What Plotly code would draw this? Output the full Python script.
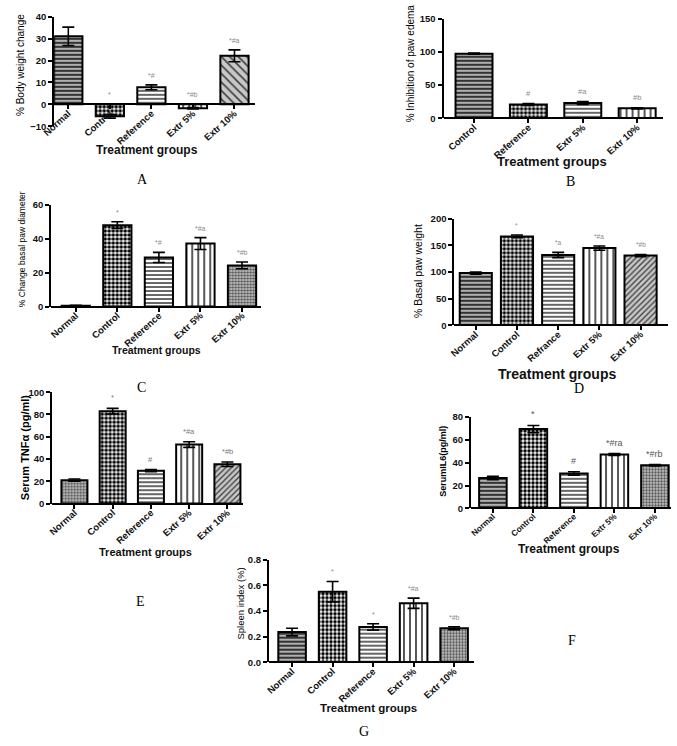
import plotly.graph_objects as go

W, H = 677, 746

# ---------------- data ----------------
A_cats = ["Normal", "Control", "Reference", "Extr 5%", "Extr 10%"]
A_vals = [31.1, -5.5, 7.8, -1.8, 22.2]
A_err = [4.2, 0.8, 1.1, 0.3, 2.7]
A_sig = ["", "*", "*#", "*#b", "*#a"]

B_cats = ["Control", "Reference", "Extr 5%", "Extr 10%"]
B_vals = [97.5, 20.8, 23.0, 15.0]
B_err = [1.0, 1.5, 2.2, 0.8]
B_sig = ["", "#", "#a", "#b"]

C_cats = ["Normal", "Control", "Reference", "Extr 5%", "Extr 10%"]
C_vals = [0.5, 48.1, 29.0, 37.2, 24.3]
C_err = [0.2, 2.0, 3.0, 3.5, 2.0]
C_sig = ["", "*", "*#", "*#a", "*#b"]

D_cats = ["Normal", "Control", "Refrance", "Extr 5%", "Extr 10%"]
D_vals = [98, 167, 132, 145, 131]
D_err = [2, 2.5, 5, 4, 2]
D_sig = ["", "*", "*a", "*#a", "*#b"]

E_cats = ["Normal", "Control", "Reference", "Extr 5%", "Extr 10%"]
E_vals = [21.0, 83.0, 29.5, 53.0, 35.3]
E_err = [1.0, 2.5, 1.0, 2.5, 2.0]
E_sig = ["", "*", "#", "*#a", "*#b"]

F_cats = ["Normal", "Control", "Reference", "Extr 5%", "Extr 10%"]
F_vals = [26.6, 69.3, 30.6, 47.2, 37.7]
F_err = [1.5, 3.2, 1.5, 0.8, 0.6]
F_sig = ["", "*", "#", "*#ra", "*#rb"]

G_cats = ["Normal", "Control", "Reference", "Extr 5%", "Extr 10%"]
G_vals = [0.235, 0.55, 0.275, 0.46, 0.265]
G_err = [0.03, 0.08, 0.025, 0.04, 0.012]
G_sig = ["", "*", "*", "*#a", "*#b"]

# ---------------- styles ----------------
P_DENSE = dict(shape="-", fg="#333333", bg="#b0b0b0", size=4, sol=0.5)
P_CHECK = dict(shape=".", fg="#000000", bg="#ffffff", size=4, sol=0.6)
P_HLINE = dict(shape="-", fg="#000000", bg="#ffffff", size=4, sol=0.3)
P_VLINE = dict(shape="|", fg="#000000", bg="#ffffff", size=6, sol=0.22)
P_DIAG = dict(shape="\\", fg="#444444", bg="#c8c8c8", size=6, sol=0.3)
P_DIAG2 = dict(shape="/", fg="#444444", bg="#c8c8c8", size=4, sol=0.35)
P_DOT = dict(shape=".", fg="#555555", bg="#d0d0d0", size=3, sol=0.5)
P_NONE = dict(shape="", fg="#000000", bg="#ffffff", size=4, sol=0.3)

FONT = "Liberation Sans"
SERIF = "Liberation Serif"

panels = [
    dict(c=A_cats, v=A_vals, e=A_err, s=A_sig,
         p=[P_DENSE, P_CHECK, P_HLINE, P_VLINE, P_DIAG],
         xd=(42, 247), yd=(11, 122), yr=(-10, 40), dt=10, xr=(-0.34, 4.5), bw=0.68,
         yt="% Body weight change", yts=10, ytx=7, yty=60, ytb=False, tf=9.5,
         tg=(137, 146, 12), let=("A", 132, 176), sc="#8a8a8a", ss=7),
    dict(c=B_cats, v=B_vals, e=B_err, s=B_sig,
         p=[P_DENSE, P_CHECK, P_HLINE, P_VLINE],
         xd=(439, 663), yd=(13, 114), yr=(0, 150), dt=50, xr=(-0.56, 3.48), bw=0.68,
         yt="% Inhibition of paw edema", yts=10, ytx=405, yty=58, ytb=False, tf=9.5,
         tg=(550, 158, 13), let=("B", 568, 178), sc="#8a8a8a", ss=7.5),
    dict(c=C_cats, v=C_vals, e=C_err, s=C_sig,
         p=[P_NONE, P_CHECK, P_HLINE, P_VLINE, P_DOT],
         xd=(39, 253), yd=(202, 305), yr=(0, 60), dt=20, xr=(-0.59, 4.46), bw=0.68,
         yt="% Change basal paw diameter", yts=8.5, ytx=10, yty=247, ytb=False, tf=9.5,
         tg=(146, 349, 10.5), let=("C", 131, 387), sc="#8a8a8a", ss=7),
    dict(c=D_cats, v=D_vals, e=D_err, s=D_sig,
         p=[P_DENSE, P_CHECK, P_HLINE, P_VLINE, P_DIAG2],
         xd=(450, 668), yd=(216, 324), yr=(0, 200), dt=50, xr=(-0.52, 4.67), bw=0.78,
         yt="% Basal paw weight", yts=10.5, ytx=413, yty=269, ytb=False, tf=9.5,
         tg=(555, 373, 14), let=("D", 577, 388), sc="#8a8a8a", ss=6.5),
    dict(c=E_cats, v=E_vals, e=E_err, s=E_sig,
         p=[P_DOT, P_CHECK, P_HLINE, P_VLINE, P_DIAG2],
         xd=(40, 235), yd=(392, 505), yr=(0, 100), dt=20, xr=(-0.58, 4.42), bw=0.68,
         yt="Serum TNFα (pg/ml)", yts=11, ytx=13, yty=448, ytb=True, tf=9.5,
         tg=(135, 554, 11), let=("E", 130, 604), sc="#777777", ss=7.5),
    dict(c=F_cats, v=F_vals, e=F_err, s=F_sig,
         p=[P_DENSE, P_CHECK, P_HLINE, P_VLINE, P_DOT],
         xd=(467, 671), yd=(417, 510), yr=(0, 80), dt=20, xr=(-0.54, 4.4), bw=0.68,
         yt="SerumIL6(pg/ml)", yts=9, ytx=439, yty=462, ytb=True, tf=8.3,
         tg=(567, 551, 12), let=("F", 570, 644), sc="#555555", ss=9),
    dict(c=G_cats, v=G_vals, e=G_err, s=G_sig,
         p=[P_DENSE, P_CHECK, P_HLINE, P_VLINE, P_DOT],
         xd=(261, 470), yd=(562, 666), yr=(0, 0.8), dt=0.2, xr=(-0.57, 4.49), bw=0.68,
         yt="Spleen index (%)", yts=9.5, ytx=232, yty=607, ytb=False, tf=9.5,
         tg=(362, 712, 11.5), let=("G", 358, 736), sc="#8a8a8a", ss=7),
]

fig = go.Figure()
annotations = []
layout = dict(
    width=W, height=H, margin=dict(l=0, r=0, t=0, b=0),
    paper_bgcolor="white", plot_bgcolor="rgba(0,0,0,0)",
    showlegend=False, font=dict(family=FONT, color="black"),
    bargap=0.3,
)


def px2x(px):
    return px / W


def px2y(py):
    return 1 - py / H


for i, P in enumerate(panels, start=1):
    xa = "x" if i == 1 else f"x{i}"
    ya = "y" if i == 1 else f"y{i}"
    xkey = "xaxis" if i == 1 else f"xaxis{i}"
    ykey = "yaxis" if i == 1 else f"yaxis{i}"
    pats = P["p"]
    fig.add_trace(go.Bar(
        x=P["c"], y=P["v"], xaxis=xa, yaxis=ya, width=P["bw"],
        marker=dict(
            color="white",
            line=dict(color="black", width=2),
            pattern=dict(
                shape=[q["shape"] for q in pats],
                fgcolor=[q["fg"] for q in pats],
                bgcolor=[q["bg"] for q in pats],
                size=[q["size"] for q in pats],
                solidity=[q["sol"] for q in pats],
                fillmode="replace",
            ),
        ),
        error_y=dict(type="data", array=P["e"], color="black", thickness=1.6, width=6),
        hoverinfo="skip",
    ))
    ydom = [px2y(P["yd"][1]), px2y(P["yd"][0])]
    y0, y1 = P["yr"]
    zero_pos = ydom[0] + (0 - y0) / (y1 - y0) * (ydom[1] - ydom[0])
    layout[xkey] = dict(
        domain=[px2x(P["xd"][0]), px2x(P["xd"][1])],
        anchor="free", position=zero_pos,
        type="category", range=list(P["xr"]),
        showline=True, linecolor="black", linewidth=2,
        ticks="outside", ticklen=4, tickwidth=1.5, tickcolor="black",
        tickangle=-42, ticklabelstandoff=-5, showgrid=False, zeroline=False,
        tickfont=dict(family=FONT, size=P["tf"], color="#111", weight="bold"),
    )
    layout[ykey] = dict(
        domain=ydom, anchor=xa, range=[y0, y1], dtick=P["dt"],
        tick0=y0,
        showline=True, linecolor="black", linewidth=2,
        ticks="outside", ticklen=4, tickwidth=1.5, tickcolor="black",
        showgrid=False, zeroline=False,
        tickformat=".1f" if P["dt"] < 1 else "d",
        tickfont=dict(family=FONT, size=9.5, color="#111", weight="bold"),
    )
    for c, v, e, s in zip(P["c"], P["v"], P["e"], P["s"]):
        if not s:
            continue
        top = max(v + e, 0)
        annotations.append(dict(
            x=c, y=top, xref=xa, yref=ya, text=s, showarrow=False,
            yanchor="bottom", yshift=4,
            font=dict(family=FONT, size=P["ss"], color=P["sc"]),
        ))
    annotations.append(dict(
        x=px2x(P["ytx"]), y=px2y(P["yty"]), xref="paper", yref="paper",
        text=P["yt"], textangle=-90, showarrow=False,
        xanchor="center", yanchor="middle",
        font=dict(family=FONT, size=P["yts"], color="black",
                  weight="bold" if P["ytb"] else "normal"),
    ))
    tx, ty, ts = P["tg"]
    annotations.append(dict(
        x=px2x(tx), y=px2y(ty), xref="paper", yref="paper",
        text="Treatment groups", showarrow=False,
        xanchor="center", yanchor="middle",
        font=dict(family=FONT, size=ts, color="#111", weight="bold"),
    ))
    lt, lx, ly = P["let"]
    annotations.append(dict(
        x=px2x(lx), y=px2y(ly), xref="paper", yref="paper",
        text=lt, showarrow=False, xanchor="center", yanchor="middle",
        font=dict(family=SERIF, size=14, color="black"),
    ))

layout["annotations"] = annotations
fig.update_layout(**layout)
fig.write_html("out.html", config={"displayModeBar": False},
               post_script="document.body.style.margin='0px';document.body.style.overflow='hidden';")
